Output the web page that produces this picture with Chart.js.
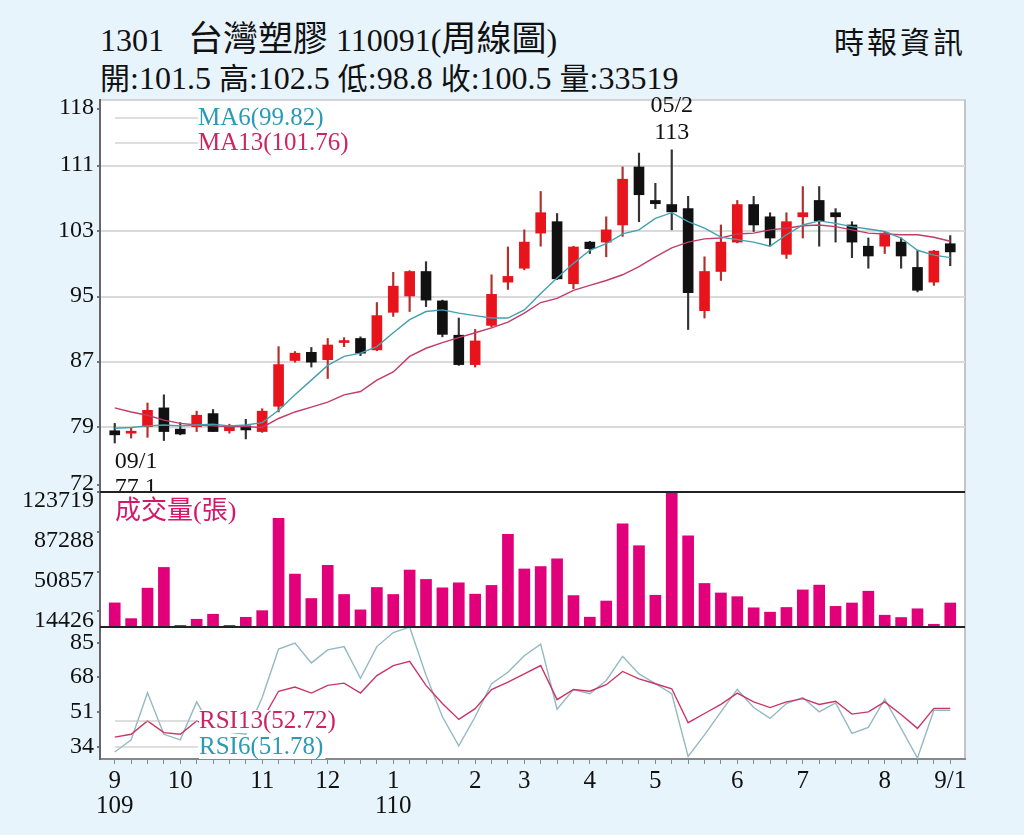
<!DOCTYPE html>
<html>
<head>
<meta charset="utf-8">
<script src="https://cdn.jsdelivr.net/npm/chart.js@4.4.1/dist/chart.umd.min.js"></script>
<style>
html, body { margin: 0; padding: 0; }
body { width: 1024px; height: 835px; background: #e8f4fc; position: relative; overflow: hidden;
       font-family: "Liberation Serif", "Noto Sans CJK TC", serif; color: #111; }
.panel { position: absolute; left: 100px; top: 99px; width: 866px; height: 661px; background: #fff;
         border-top: 2px solid #d4d4d4; border-right: 2px solid #c4c4c4; box-sizing: border-box; }
.rule { position: absolute; left: 100px; width: 865px; height: 2px; background: #222; }
canvas { position: absolute; left: 0; top: 0; }
.txt { position: absolute; white-space: pre; line-height: 1; }
.cjk { font-family: "Noto Sans CJK TC", sans-serif; }
</style>
</head>
<body>
<div class="panel"></div>
<div class="txt" style="left:100px;top:18px;font-size:32px;">1301   <span class="cjk" style="font-size:35px">台灣塑膠</span> 110091(<span class="cjk" style="font-size:35px">周線圖</span>)</div>
<div class="txt" style="left:100px;top:61px;font-size:32px;"><span class="cjk" style="font-size:30px">開</span>:101.5 <span class="cjk" style="font-size:30px">高</span>:102.5 <span class="cjk" style="font-size:30px">低</span>:98.8 <span class="cjk" style="font-size:30px">收</span>:100.5 <span class="cjk" style="font-size:30px">量</span>:33519</div>
<div class="txt cjk" style="left:834px;top:25px;font-size:30px;letter-spacing:3px;">時報資訊</div>
<canvas id="price" width="1024" height="835"></canvas>
<canvas id="vol" width="1024" height="835"></canvas>
<canvas id="rsi" width="1024" height="835"></canvas>
<div class="rule" style="top:491px;"></div>
<div class="rule" style="top:626px;"></div>
<script>
// weekly candles, 109/09 - 110/09/1
const open = [78.6, 78.3, 79.1, 81.4, 78.8, 79.1, 80.7, 78.6, 79.2, 78.5,
  81.6, 87.2, 88.2, 87.3, 89.4, 89.9, 88.5, 93.1, 95.1, 98.1,
  94.5, 90.3, 86.7, 91.5, 96.8, 98.5, 102.8, 104.2, 96.6, 101.7,
  101.7, 103.8, 110.9, 106.8, 106.3, 105.8, 93.3, 98.1, 101.7, 106.3,
  104.8, 100.2, 104.8, 106.8, 105.3, 103.8, 101.2, 101.2, 101.7, 98.6,
  96.8, 101.5];
const high = [79.5, 79.0, 82.0, 83.0, 79.6, 81.0, 81.2, 79.4, 80.0, 81.3,
  88.9, 88.3, 88.8, 89.9, 90.0, 90.1, 94.3, 98.0, 98.2, 99.3,
  94.6, 92.4, 91.0, 97.7, 101.1, 103.2, 107.9, 105.2, 101.2, 101.8,
  104.8, 110.9, 112.6, 108.9, 113.0, 107.3, 99.9, 103.8, 106.8, 107.3,
  105.3, 105.3, 108.5, 108.5, 105.8, 104.2, 102.2, 103.0, 102.2, 100.7,
  100.7, 102.5];
const low = [77.1, 77.7, 77.8, 77.4, 78.1, 78.5, 78.5, 78.3, 77.6, 78.4,
  80.9, 87.0, 86.4, 85.0, 88.9, 87.8, 88.4, 92.6, 93.2, 93.8,
  90.1, 86.6, 86.4, 91.3, 95.9, 98.3, 101.2, 97.1, 96.0, 100.3,
  99.9, 102.4, 104.2, 105.8, 103.2, 91.0, 92.4, 97.0, 101.6, 103.0,
  101.2, 99.7, 102.2, 101.2, 101.7, 99.8, 98.5, 100.3, 98.5, 95.6,
  96.4, 98.8];
const close = [78.1, 78.5, 81.1, 78.5, 78.2, 80.5, 78.5, 79.2, 78.7, 81.0,
  86.7, 88.1, 87.0, 89.1, 89.6, 88.1, 92.7, 96.3, 98.1, 94.6,
  90.4, 86.7, 89.6, 95.3, 97.5, 101.7, 105.3, 97.2, 101.1, 100.9,
  103.2, 109.4, 107.5, 106.4, 105.4, 95.5, 98.1, 101.7, 106.3, 103.8,
  102.2, 104.2, 105.3, 104.3, 104.8, 101.7, 100.0, 102.8, 100.0, 95.8,
  100.6, 100.5];
const ma6 = [78.9, 79.0, 79.2, 79.3, 79.2, 79.3, 79.4, 79.2, 79.3, 79.6,
  81.1, 83.0, 84.8, 86.6, 87.7, 88.1, 88.9, 90.6, 92.2, 93.2,
  93.4, 93.0, 92.7, 92.4, 92.4, 93.4, 95.4, 97.3, 99.1, 100.7,
  101.5, 102.7, 103.2, 104.6, 105.3, 104.2, 103.4, 102.3, 102.0, 101.7,
  101.2, 102.6, 103.8, 104.3, 104.0, 103.6, 103.3, 103.0, 102.2, 100.7,
  100.1, 99.8];
const ma13 = [81.4, 80.9, 80.5, 79.9, 79.5, 79.3, 79.2, 79.1, 79.1, 79.0,
  80.1, 80.9, 81.5, 82.1, 83.0, 83.4, 84.8, 85.8, 87.7, 88.7,
  89.4, 90.0, 90.6, 91.2, 91.9, 93.0, 94.3, 94.8, 95.8, 96.4,
  97.0, 97.7, 98.7, 99.9, 101.0, 101.7, 102.1, 102.2, 102.7, 102.8,
  103.2, 103.4, 103.7, 103.8, 103.6, 103.2, 102.8, 102.7, 102.6, 102.6,
  102.3, 101.8];
const volume = [22100, 7700, 35600, 54600, 1500, 7100, 11700, 1500, 8900, 15000,
  99500, 48500, 26100, 56500, 29800, 15700, 36200, 29800, 52200, 43600,
  35900, 40500, 30100, 38100, 85000, 53200, 55400, 62500, 28800, 9000,
  23800, 94600, 74500, 29100, 123719, 83500, 39900, 31200, 27800, 17600,
  13600, 17900, 34000, 38400, 18900, 22000, 32800, 10800, 8700, 16700,
  2500, 22000];
const rsi6 = [31.3, 37.3, 60.4, 40.0, 37.3, 55.9, 42.0, 41.0, 40.0, 58.0,
  81.8, 84.7, 75.0, 81.4, 83.0, 67.5, 83.0, 89.9, 92.6, 69.0,
  48.6, 34.4, 48.6, 64.8, 70.4, 78.5, 84.2, 52.3, 61.9, 59.9,
  66.4, 78.2, 69.6, 64.8, 59.9, 29.2, 39.7, 51.0, 62.0, 53.1,
  47.8, 55.1, 58.0, 51.0, 55.4, 40.5, 43.4, 57.2, 42.9, 28.4,
  51.8, 51.8];
const rsi13 = [38.6, 40.0, 46.6, 40.8, 40.0, 46.5, 44.0, 43.0, 42.0, 47.0,
  61.1, 63.2, 60.2, 64.0, 65.1, 60.2, 68.8, 73.7, 75.8, 64.0,
  55.1, 47.3, 52.6, 61.9, 65.6, 69.6, 73.7, 57.0, 62.0, 61.1,
  64.3, 70.8, 67.2, 64.8, 62.3, 45.7, 50.2, 54.7, 60.2, 55.9,
  53.1, 55.9, 57.5, 54.6, 56.2, 49.9, 51.0, 55.9, 49.7, 42.9,
  52.7, 52.7];
const monthTicks = [0, 4, 9, 13, 17, 22, 25, 29, 33, 38, 42, 47, 51];
const monthLabels = ['9', '10', '11', '12', '1', '2', '3', '4', '5', '6', '7', '8', '9/1'];
const yearLabels = { 0: '109', 17: '110' };
const priceTicks = [72, 79, 87, 95, 103, 111, 118];
const volumeTicks = [14426, 50857, 87288, 123719];
const rsiTicks = [34, 51, 68, 85];

const SERIF = '"Liberation Serif", "Noto Sans CJK TC", serif';
Chart.defaults.font.family = SERIF;
Chart.defaults.color = '#111';
Chart.defaults.animation = false;
Chart.defaults.plugins.legend.display = false;
Chart.defaults.plugins.tooltip.enabled = false;

const RED = '#e8141c', BLACK = '#111111';
const up = close.map((c, i) => c >= open[i]);
const xy = arr => arr.map((v, i) => ({ x: i, y: v }));

function xAxis(show) {
  return { type: 'linear', min: -0.9, max: 51.9, offset: false, display: show, grid: { offset: false } };
}
function yAxis(min, max, ticks, gridOn, shift) {
  return {
    min: min, max: max,
    afterFit: s => { s.width = 100; s.paddingTop = 0; s.paddingBottom = 0; },
    afterBuildTicks: s => { s.ticks = ticks.map(v => ({ value: v })); },
    ticks: { font: { size: 24 }, color: '#111', padding: 3, labelOffset: shift || 0, callback: v => String(v) },
    grid: {
      drawOnChartArea: gridOn, lineWidth: 2, tickLength: 3, tickColor: '#777',
      color: c => (c.tick && (c.tick.value === 72 || c.tick.value === 118)) ? 'rgba(0,0,0,0)' : '#dadada'
    },
    border: { display: true, color: '#666', width: 2 }
  };
}

function legendLine(ctx, y) {
  ctx.strokeStyle = '#bdbdbd';
  ctx.lineWidth = 1;
  ctx.beginPath();
  ctx.moveTo(115, y);
  ctx.lineTo(198, y);
  ctx.stroke();
}

const priceNotes = {
  id: 'priceNotes',
  afterDatasetsDraw(chart) {
    const { ctx, chartArea, scales } = chart;
    ctx.save();
    ctx.textBaseline = 'middle';
    ctx.font = '25px ' + SERIF;
    legendLine(ctx, 118);
    legendLine(ctx, 143);
    ctx.fillStyle = '#2b9ab6';
    ctx.fillText('MA6(99.82)', 198, 118);
    ctx.fillStyle = '#d1245f';
    ctx.fillText('MA13(101.76)', 198, 143);

    // highest and lowest week
    const hi = high.indexOf(Math.max(...high));
    const lo = low.indexOf(Math.min(...low));
    ctx.fillStyle = '#111';
    ctx.font = '24px ' + SERIF;
    ctx.textAlign = 'center';
    const xh = scales.x.getPixelForValue(hi), yh = scales.y.getPixelForValue(high[hi]);
    ctx.fillText('05/2', xh, yh - 44);
    ctx.fillText(String(high[hi]), xh, yh - 17);
    ctx.beginPath();
    ctx.rect(0, 0, 1024, chartArea.bottom);
    ctx.clip();
    ctx.textAlign = 'left';
    const xl = scales.x.getPixelForValue(lo), yl = scales.y.getPixelForValue(low[lo]);
    ctx.fillText('09/1', xl, yl + 19);
    ctx.fillText(String(low[lo]), xl, yl + 45);
    ctx.restore();
  }
};

new Chart(document.getElementById('price'), {
  type: 'bar',
  data: {
    datasets: [
      { type: 'line', data: xy(ma6), borderColor: '#44a0b0', borderWidth: 1.4, pointRadius: 0, order: 0 },
      { type: 'line', data: xy(ma13), borderColor: '#c23b6a', borderWidth: 1.4, pointRadius: 0, order: 1 },
      { data: open.map((o, i) => ({ x: i, y: [o, close[i]] })), backgroundColor: up.map(u => u ? RED : BLACK),
        barThickness: 10, minBarLength: 2, grouped: false, order: 2 },
      { data: low.map((l, i) => ({ x: i, y: [l, high[i]] })), backgroundColor: up.map(u => u ? '#b0302c' : '#333'),
        barThickness: 1.5, grouped: false, order: 3 }
    ]
  },
  options: {
    responsive: false,
    layout: { padding: { top: 100, bottom: 343, left: 0, right: 59 } },
    scales: { x: xAxis(false), y: yAxis(71.1, 119.1, priceTicks, true, -1) }
  },
  plugins: [priceNotes]
});

const volNotes = {
  id: 'volNotes',
  afterDatasetsDraw(chart) {
    const { ctx } = chart;
    ctx.save();
    ctx.textBaseline = 'middle';
    ctx.font = '26px ' + SERIF;
    ctx.fillStyle = '#d4176b';
    ctx.fillText('成交量(張)', 115, 512);
    ctx.restore();
  }
};

new Chart(document.getElementById('vol'), {
  type: 'bar',
  data: { datasets: [{ data: xy(volume), backgroundColor: '#e2007a', barThickness: 11 }] },
  options: {
    responsive: false,
    layout: { padding: { top: 492, bottom: 208, left: 0, right: 59 } },
    scales: { x: xAxis(false), y: yAxis(0, 123719, volumeTicks, false, 9) }
  },
  plugins: [volNotes]
});

const rsiNotes = {
  id: 'rsiNotes',
  afterDatasetsDraw(chart) {
    const { ctx } = chart;
    ctx.save();
    ctx.textBaseline = 'middle';
    ctx.font = '25px ' + SERIF;
    const items = [['RSI13(52.72)', '#cc2462', 721], ['RSI6(51.78)', '#2b9ab6', 747]];
    items.forEach(([t, c, y]) => {
      legendLine(ctx, y);
      const w = ctx.measureText(t).width;
      ctx.fillStyle = '#fff';
      ctx.fillRect(199, y - 11, w + 2, 23);
      ctx.fillStyle = c;
      ctx.fillText(t, 199, y);
    });
    ctx.restore();
  }
};

const rsiX = xAxis(true);
rsiX.afterBuildTicks = s => { s.ticks = open.map((o, i) => ({ value: i })); };
rsiX.afterFit = s => { s.height = 76; };
rsiX.ticks = {
  autoSkip: false, maxRotation: 0, padding: 5, color: '#111',
  font: { size: 25, lineHeight: 1 },
  callback: v => {
    const k = monthTicks.indexOf(v);
    if (k < 0) return '';
    return yearLabels[v] ? [monthLabels[k], yearLabels[v]] : monthLabels[k];
  }
};
rsiX.grid = { drawOnChartArea: false, drawTicks: true, tickLength: 5, tickColor: '#888', offset: false };
rsiX.border = { display: true, color: '#888', width: 2 };

new Chart(document.getElementById('rsi'), {
  type: 'line',
  data: {
    datasets: [
      { data: xy(rsi13), borderColor: '#c93665', borderWidth: 1.4, pointRadius: 0 },
      { data: xy(rsi6), borderColor: '#93b9c2', borderWidth: 1.4, pointRadius: 0 }
    ]
  },
  options: {
    responsive: false,
    layout: { padding: { top: 627, bottom: 0, left: 0, right: 59 } },
    scales: { x: rsiX, y: yAxis(27.9, 92.6, rsiTicks, false) }
  },
  plugins: [rsiNotes]
});
</script>
</body>
</html>
